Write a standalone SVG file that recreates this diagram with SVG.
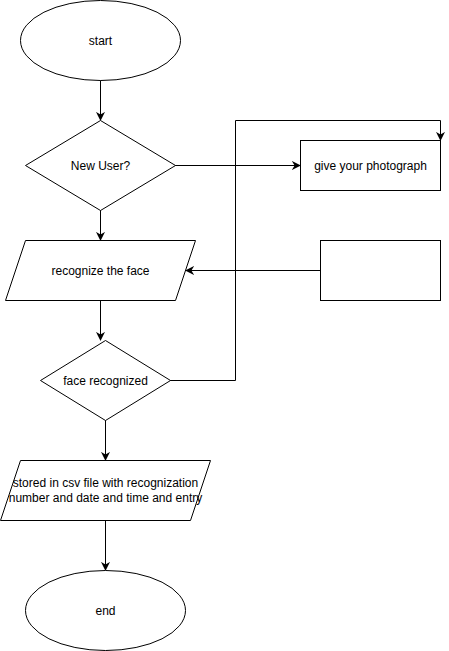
<svg xmlns="http://www.w3.org/2000/svg" width="449" height="651" viewBox="0 0 449 651">
<style>
.s{fill:#fff;stroke:#000;stroke-width:1}
.c{fill:none;stroke:#000;stroke-width:1}
text{font-family:"Liberation Sans",Arial,sans-serif;font-size:12px;fill:#000;text-anchor:middle}
</style>
<defs>
<marker id="a" viewBox="0 0 10 10" refX="9" refY="5" markerWidth="9" markerHeight="9" markerUnits="userSpaceOnUse" orient="auto">
<path d="M0,0 L10,5 L0,10 L3,5 Z" fill="#000"/>
</marker>
</defs>
<rect width="449" height="651" fill="#fff"/>
<g id="connectors">
<path class="c" d="M100.5,80 V120" marker-end="url(#a)"/>
<path class="c" d="M175,165.5 H300" marker-end="url(#a)"/>
<path class="c" d="M100.5,210 V240" marker-end="url(#a)"/>
<path class="c" d="M320,270.5 H186" marker-end="url(#a)"/>
<path class="c" d="M100.5,300 V340" marker-end="url(#a)"/>
<path class="c" d="M170,380.5 H235.5 V120.5 H440.5 V140" marker-end="url(#a)"/>
<path class="c" d="M105.5,420 V460" marker-end="url(#a)"/>
<path class="c" d="M105.5,520 V570" marker-end="url(#a)"/>
</g>
<g id="start">
<ellipse class="s" cx="100.5" cy="40.5" rx="80" ry="40"/>
<text x="100.5" y="45">start</text>
</g>
<g id="newuser">
<path class="s" d="M100.5,120.5 L175.5,165.5 L100.5,210.5 L25.5,165.5 Z"/>
<text x="100.5" y="170">New User?</text>
</g>
<g id="photo">
<rect class="s" x="300.5" y="140.5" width="140" height="50"/>
<text x="370.5" y="170">give your photograph</text>
</g>
<g id="recognize">
<path class="s" d="M25.5,240.5 H195.5 L175.5,300.5 H5.5 Z"/>
<text x="100.5" y="275">recognize the face</text>
</g>
<g id="blank">
<rect class="s" x="320.5" y="240.5" width="120" height="60"/>
</g>
<g id="facerecognized">
<path class="s" d="M105.5,340.5 L170.5,380.5 L105.5,420.5 L40.5,380.5 Z"/>
<text x="105.5" y="385">face recognized</text>
</g>
<g id="stored">
<path class="s" d="M20.5,460.5 H210.5 L190.5,520.5 H0.5 Z"/>
<text x="105.5" y="487">stored in csv file with recognization</text>
<text x="105.5" y="502">number and date and time and entry</text>
</g>
<g id="end">
<ellipse class="s" cx="105.5" cy="610.5" rx="80" ry="40"/>
<text x="105.5" y="615">end</text>
</g>
</svg>
